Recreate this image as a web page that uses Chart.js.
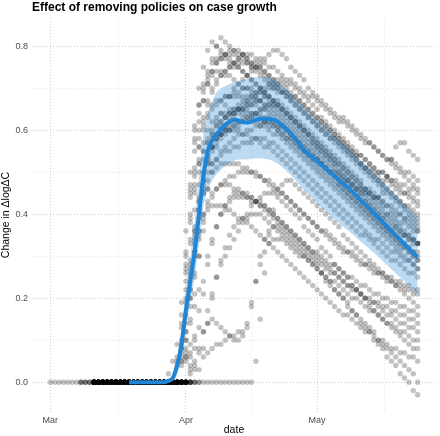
<!DOCTYPE html>
<html>
<head>
<meta charset="utf-8">
<script src="https://cdn.jsdelivr.net/npm/chart.js@4"></script>
<style>
  html, body { margin: 0; padding: 0; background: #fff; }
  canvas { display: block; }
</style>
</head>
<body>
<canvas id="chart" width="440" height="436"></canvas>
<script>
// x is days counted from 1 March
const xTickDays = [0, 31, 61];
const xTickLabels = ["Mar", "Apr", "May"];
const xMinorDays = [15.5, 46, 76.5];
const yTicks = [0, 0.1, 0.2, 0.3, 0.4, 0.5, 0.6, 0.7, 0.8];
const yTickLabels = ["0.0", "", "0.2", "", "0.4", "", "0.6", "", "0.8"];

// each track: zeros from trackFirst up to trackStart, then its values day by day
const trackFirst = [0, 7, 7, 10, 10, 10, 10, 10, 10, 11, 10, 10, 12, 10, 10, 10, 10, 10, 11, 10, 10, 10, 10, 12,
                    10, 10, 10, 11, 10, 10, 12, 10, 10, 10];
const trackStart = [30, 31, 29, 32, 30, 33, 31, 30, 31, 30, 31, 32, 29, 32, 31, 30, 31, 30, 33, 27, 34, 35, 33, 47,
                    30, 31, 29, 31, 30, 32, 32, 32, 30, 32];
const tracks = [
  [0.10,0.30,0.46,0.57,0.64,0.69,0.73,0.77,0.80,0.82,0.81, 0.80,0.79,0.79,0.78,0.77,0.76,0.76,0.75,0.74,0.73, 0.72,0.71,0.71,0.70,0.69,0.68,0.67,0.66,0.65,0.64, 0.63,0.62,0.61,0.60,0.59,0.58,0.58,0.57,0.56,0.55, 0.54,0.53,0.52,0.51,0.50,0.50,0.49,0.48,0.47,0.46, 0.45,0.45,0.44,0.43],
  [0.12,0.33,0.50,0.60,0.67,0.71,0.74,0.76,0.77,0.78, 0.78,0.78,0.77,0.77,0.76,0.75,0.74,0.73,0.72,0.71, 0.70,0.69,0.69,0.68,0.67,0.66,0.65,0.64,0.63,0.62, 0.61,0.60,0.59,0.58,0.58,0.57,0.56,0.55,0.54,0.53, 0.52,0.51,0.51,0.50,0.49,0.48,0.48,0.47,0.46,0.45, 0.45,0.44,0.43,0.42],
  [0.05,0.16,0.31,0.45,0.55,0.62,0.67,0.71,0.74,0.76, 0.77,0.77,0.76,0.76,0.75,0.74,0.73,0.72,0.71,0.70, 0.69,0.68,0.67,0.66,0.65,0.64,0.63,0.62,0.61,0.60, 0.59,0.58,0.57,0.56,0.55,0.54,0.53,0.52,0.51,0.50, 0.49,0.48,0.47,0.46,0.45,0.44,0.44,0.43,0.42,0.41, 0.40,0.40,0.39,0.38,0.37,0.36],
  [0.14,0.36,0.52,0.61,0.66,0.69,0.71,0.73,0.74,0.75, 0.76,0.77,0.78,0.78,0.78,0.77,0.77,0.76,0.75,0.75, 0.74,0.73,0.72,0.72,0.71,0.70,0.69,0.68,0.68,0.67, 0.66,0.65,0.64,0.63,0.62,0.62,0.61,0.60,0.59,0.58, 0.57,0.57,0.56,0.55,0.54,0.53,0.53,0.52,0.51,0.50, 0.50,0.49,0.48],
  [0.09,0.28,0.47,0.61,0.70,0.75,0.79,0.81,0.80,0.79, 0.78,0.77,0.76,0.75,0.74,0.73,0.72,0.71,0.70,0.69, 0.68,0.67,0.66,0.65,0.64,0.63,0.62,0.61,0.60,0.59, 0.58,0.57,0.56,0.55,0.54,0.53,0.52,0.51,0.50,0.49, 0.48,0.47,0.46,0.46,0.45,0.44,0.43,0.42,0.42,0.41, 0.40,0.39,0.39,0.38,0.37],
  [0.11,0.30,0.45,0.54,0.59,0.62,0.64,0.66,0.68,0.70, 0.71,0.72,0.73,0.74,0.75,0.76,0.77,0.78,0.79,0.79, 0.78,0.77,0.75,0.74,0.73,0.72,0.70,0.69,0.68,0.67, 0.66,0.65,0.64,0.63,0.63,0.62,0.61,0.60,0.59,0.58, 0.57,0.56,0.55,0.54,0.53,0.52,0.51,0.50,0.49,0.48, 0.47,0.46],
  [0.06,0.20,0.36,0.47,0.53,0.57,0.59,0.61,0.62,0.63, 0.64,0.64,0.65,0.65,0.65,0.64,0.64,0.63,0.62,0.62, 0.61,0.60,0.59,0.58,0.58,0.57,0.56,0.55,0.54,0.53, 0.53,0.52,0.51,0.50,0.50,0.49,0.48,0.48,0.47,0.46, 0.46,0.45,0.45,0.44,0.44,0.45,0.49,0.53,0.56,0.57, 0.57,0.55,0.54,0.53],
  [0.07,0.22,0.38,0.49,0.56,0.60,0.63,0.65,0.66,0.67, 0.68,0.68,0.69,0.69,0.70,0.70,0.70,0.69,0.69,0.68, 0.67,0.66,0.65,0.64,0.63,0.62,0.61,0.60,0.59,0.58, 0.57,0.56,0.55,0.54,0.53,0.52,0.51,0.50,0.49,0.48, 0.47,0.46,0.45,0.44,0.43,0.42,0.41,0.40,0.40,0.39, 0.38,0.38,0.37,0.36,0.36],
  [0.10,0.27,0.41,0.50,0.55,0.58,0.60,0.61,0.62,0.63, 0.64,0.64,0.65,0.65,0.66,0.66,0.67,0.67,0.66,0.66, 0.65,0.64,0.63,0.62,0.61,0.60,0.59,0.58,0.57,0.56, 0.55,0.54,0.53,0.52,0.51,0.50,0.49,0.48,0.47,0.46, 0.45,0.44,0.43,0.42,0.41,0.40,0.39,0.38,0.37,0.36, 0.35,0.35,0.34,0.33],
  [0.06,0.19,0.34,0.46,0.53,0.57,0.60,0.62,0.63,0.64, 0.64,0.65,0.65,0.65,0.64,0.64,0.63,0.63,0.62,0.62, 0.61,0.61,0.60,0.59,0.58,0.57,0.56,0.55,0.54,0.53, 0.52,0.51,0.50,0.49,0.48,0.47,0.46,0.45,0.44,0.43, 0.42,0.41,0.40,0.39,0.38,0.37,0.36,0.35,0.34,0.33, 0.32,0.32,0.31,0.30,0.29],
  [0.08,0.22,0.35,0.44,0.50,0.54,0.56,0.58,0.59,0.60, 0.60,0.61,0.61,0.62,0.62,0.62,0.62,0.61,0.61,0.60, 0.59,0.59,0.58,0.57,0.56,0.55,0.54,0.53,0.52,0.51, 0.50,0.49,0.48,0.47,0.46,0.45,0.44,0.43,0.42,0.41, 0.40,0.39,0.38,0.37,0.36,0.35,0.34,0.33,0.32,0.31, 0.30,0.29,0.28,0.27],
  [0.09,0.25,0.39,0.48,0.53,0.56,0.58,0.60,0.61,0.62, 0.63,0.64,0.65,0.66,0.66,0.67,0.67,0.68,0.68,0.67, 0.67,0.66,0.65,0.64,0.63,0.62,0.61,0.60,0.59,0.58, 0.57,0.56,0.55,0.54,0.53,0.52,0.51,0.50,0.49,0.48, 0.46,0.45,0.44,0.43,0.42,0.40,0.39,0.38,0.37,0.36, 0.35,0.34,0.33],
  [0.04,0.13,0.27,0.39,0.47,0.52,0.55,0.57,0.58,0.59, 0.59,0.60,0.60,0.60,0.60,0.59,0.59,0.58,0.58,0.57, 0.56,0.56,0.55,0.54,0.53,0.52,0.51,0.50,0.49,0.48, 0.47,0.46,0.45,0.44,0.43,0.42,0.41,0.40,0.39,0.38, 0.37,0.36,0.35,0.35,0.34,0.33,0.32,0.31,0.30,0.29, 0.29,0.28,0.27,0.26,0.26,0.25],
  [0.07,0.21,0.36,0.46,0.52,0.56,0.59,0.61,0.63,0.64, 0.65,0.66,0.67,0.68,0.68,0.69,0.70,0.70,0.71,0.71, 0.72,0.72,0.71,0.71,0.70,0.69,0.68,0.67,0.66,0.65, 0.63,0.62,0.61,0.60,0.59,0.57,0.56,0.55,0.54,0.52, 0.51,0.50,0.49,0.48,0.46,0.45,0.44,0.43,0.42,0.41, 0.40,0.39,0.38],
  [0.07,0.20,0.33,0.43,0.49,0.53,0.56,0.58,0.59,0.60, 0.61,0.62,0.62,0.63,0.63,0.64,0.64,0.65,0.65,0.66, 0.66,0.66,0.65,0.64,0.63,0.62,0.61,0.60,0.59,0.57, 0.56,0.55,0.54,0.53,0.52,0.50,0.49,0.48,0.47,0.46, 0.45,0.43,0.42,0.41,0.40,0.39,0.37,0.36,0.35,0.34, 0.33,0.32,0.31,0.30],
  [0.05,0.16,0.28,0.37,0.43,0.47,0.50,0.52,0.53,0.54, 0.55,0.55,0.56,0.56,0.57,0.57,0.57,0.58,0.58,0.58, 0.57,0.57,0.56,0.55,0.54,0.53,0.52,0.51,0.50,0.49, 0.48,0.47,0.46,0.45,0.44,0.43,0.42,0.41,0.40,0.39, 0.38,0.37,0.36,0.35,0.34,0.34,0.33,0.32,0.31,0.31, 0.30,0.29,0.29,0.28,0.27],
  [0.05,0.15,0.26,0.34,0.39,0.42,0.44,0.46,0.47,0.48, 0.49,0.49,0.50,0.50,0.50,0.50,0.49,0.49,0.48,0.48, 0.47,0.46,0.45,0.44,0.43,0.42,0.41,0.40,0.39,0.38, 0.37,0.36,0.35,0.34,0.33,0.32,0.31,0.31,0.30,0.29, 0.28,0.28,0.27,0.26,0.26,0.25,0.24,0.24,0.23,0.23, 0.22,0.22,0.21,0.21],
  [0.04,0.12,0.22,0.30,0.36,0.40,0.43,0.45,0.46,0.47, 0.47,0.47,0.46,0.46,0.45,0.45,0.44,0.43,0.43,0.42, 0.41,0.40,0.39,0.38,0.37,0.36,0.35,0.34,0.33,0.32, 0.31,0.31,0.30,0.29,0.28,0.28,0.27,0.26,0.25,0.25, 0.24,0.23,0.23,0.22,0.21,0.21,0.20,0.20,0.19,0.19, 0.18,0.18,0.17,0.17,0.16],
  [0.05,0.13,0.21,0.28,0.33,0.37,0.40,0.42,0.44,0.45, 0.45,0.45,0.44,0.44,0.43,0.42,0.42,0.41,0.40,0.39, 0.38,0.37,0.36,0.35,0.34,0.33,0.32,0.31,0.30,0.29, 0.28,0.27,0.26,0.25,0.24,0.23,0.23,0.22,0.21,0.20, 0.19,0.19,0.18,0.17,0.16,0.16,0.15,0.14,0.14,0.13, 0.13,0.12],
  [0.02,0.05,0.09,0.14,0.20,0.26,0.31,0.35,0.38,0.41, 0.42,0.42,0.42,0.41,0.41,0.40,0.39,0.39,0.38,0.37, 0.36,0.35,0.34,0.33,0.32,0.31,0.30,0.29,0.28,0.27, 0.26,0.25,0.24,0.23,0.22,0.21,0.20,0.19,0.18,0.17, 0.16,0.16,0.15,0.14,0.13,0.12,0.12,0.11,0.10,0.10, 0.09,0.08,0.08,0.07,0.07,0.06,0.06,0.05],
  [0.03,0.08,0.14,0.20,0.25,0.29,0.32,0.35,0.37,0.38, 0.39,0.39,0.40,0.40,0.40,0.39,0.38,0.37,0.36,0.35, 0.34,0.33,0.32,0.31,0.30,0.29,0.28,0.27,0.26,0.24, 0.23,0.22,0.21,0.20,0.19,0.17,0.16,0.15,0.14,0.13, 0.12,0.10,0.09,0.08,0.07,0.06,0.05,0.04,0.03,0.02, 0.00],
  [0.06,0.07,0.08,0.09,0.09,0.10,0.11,0.11,0.12,0.12, 0.13,0.18,0.24,0.30,0.34,0.36,0.37,0.37,0.36,0.35, 0.34,0.33,0.32,0.31,0.30,0.29,0.28,0.26,0.25,0.24, 0.22,0.21,0.20,0.18,0.17,0.16,0.14,0.13,0.12,0.10, 0.09,0.08,0.06,0.05,0.04,0.02,0.01,0.00,-0.02,-0.03],
  [0.04,0.08,0.12,0.14,0.15,0.14,0.13,0.12,0.11,0.10, 0.10,0.11,0.14,0.19,0.24,0.28,0.31,0.33,0.34,0.34, 0.34,0.33,0.32,0.31,0.30,0.30,0.29,0.28,0.27,0.26, 0.25,0.24,0.24,0.23,0.22,0.21,0.20,0.20,0.19,0.18, 0.17,0.17,0.16,0.15,0.14,0.14,0.13,0.12,0.12,0.11, 0.10,0.10],
  [0.05,0.15,0.26,0.35,0.41,0.45,0.47,0.48,0.48,0.47, 0.46,0.45,0.44,0.43,0.42,0.41,0.40,0.39,0.38,0.37, 0.35,0.34,0.33,0.32,0.31,0.30,0.29,0.28,0.27,0.26, 0.25,0.24,0.23,0.22,0.21,0.20,0.19,0.18],
  [0.08,0.26,0.44,0.58,0.66,0.71,0.74,0.76,0.77,0.78, 0.78,0.79,0.79,0.78,0.78,0.77,0.76,0.75,0.75,0.74, 0.73,0.72,0.71,0.70,0.69,0.68,0.68,0.67,0.66,0.65, 0.64,0.63,0.62,0.61,0.60,0.59,0.58,0.57,0.56,0.55, 0.54,0.54,0.53,0.52,0.51,0.50,0.50,0.49,0.48,0.48, 0.47,0.47,0.46,0.46,0.45],
  [0.10,0.29,0.45,0.56,0.63,0.67,0.70,0.72,0.73,0.74, 0.75,0.75,0.76,0.76,0.76,0.75,0.75,0.74,0.73,0.72, 0.71,0.70,0.69,0.68,0.67,0.66,0.65,0.64,0.63,0.62, 0.61,0.60,0.59,0.58,0.57,0.56,0.55,0.54,0.53,0.52, 0.51,0.50,0.49,0.48,0.47,0.47,0.46,0.45,0.44,0.43, 0.42,0.42,0.41,0.40],
  [0.06,0.19,0.36,0.50,0.60,0.66,0.70,0.72,0.73,0.74, 0.74,0.73,0.73,0.72,0.71,0.70,0.70,0.69,0.68,0.67, 0.66,0.65,0.64,0.63,0.62,0.61,0.60,0.59,0.58,0.57, 0.56,0.55,0.54,0.53,0.52,0.51,0.50,0.49,0.48,0.47, 0.46,0.45,0.44,0.43,0.42,0.41,0.40,0.39,0.38,0.37, 0.37,0.36,0.35,0.34,0.33,0.33],
  [0.06,0.18,0.31,0.41,0.48,0.52,0.55,0.57,0.58,0.59, 0.60,0.61,0.62,0.62,0.63,0.63,0.64,0.64,0.63,0.63, 0.62,0.61,0.60,0.59,0.58,0.57,0.56,0.55,0.54,0.53, 0.52,0.51,0.50,0.49,0.48,0.47,0.46,0.45,0.44,0.43, 0.42,0.41,0.40,0.39,0.38,0.37,0.36,0.35,0.34,0.33, 0.33,0.32,0.31,0.31],
  [0.08,0.24,0.40,0.51,0.58,0.62,0.64,0.66,0.67,0.67, 0.68,0.68,0.68,0.68,0.68,0.67,0.67,0.66,0.65,0.65, 0.64,0.63,0.62,0.61,0.60,0.59,0.58,0.57,0.56,0.55, 0.54,0.53,0.52,0.51,0.50,0.49,0.48,0.47,0.46,0.45, 0.44,0.43,0.42,0.41,0.40,0.39,0.38,0.37,0.36,0.36, 0.35,0.35,0.34,0.34,0.33],
  [0.06,0.18,0.30,0.40,0.46,0.50,0.53,0.55,0.56,0.57, 0.58,0.59,0.59,0.60,0.60,0.61,0.61,0.62,0.62,0.62, 0.61,0.61,0.60,0.59,0.58,0.57,0.56,0.55,0.54,0.53, 0.52,0.51,0.50,0.49,0.47,0.46,0.45,0.44,0.43,0.42, 0.41,0.40,0.39,0.38,0.37,0.36,0.35,0.34,0.33,0.32, 0.31,0.30,0.29],
  [0.03,0.08,0.22,0.36,0.46,0.52,0.56,0.59,0.61,0.63,0.64, 0.65,0.66,0.67,0.68,0.68,0.69,0.69,0.70,0.70,0.70, 0.69,0.69,0.68,0.67,0.66,0.65,0.64,0.63,0.62,0.61, 0.60,0.59,0.58,0.57,0.56,0.55,0.54,0.53,0.52,0.51, 0.50,0.49,0.48,0.47,0.46,0.45,0.44,0.43,0.42,0.41, 0.40,0.39],
  [0.04,0.10,0.17,0.24,0.30,0.34,0.37,0.40,0.42,0.43, 0.44,0.44,0.44,0.44,0.43,0.43,0.42,0.41,0.40,0.39, 0.38,0.37,0.36,0.35,0.34,0.33,0.32,0.31,0.30,0.29, 0.28,0.27,0.26,0.26,0.25,0.24,0.23,0.22,0.22,0.21, 0.20,0.20,0.19,0.19,0.18,0.18,0.17,0.17,0.16,0.16, 0.15,0.15,0.14],
  [0.05,0.14,0.25,0.34,0.41,0.45,0.48,0.50,0.51,0.52, 0.52,0.52,0.52,0.52,0.51,0.51,0.50,0.50,0.49,0.48, 0.47,0.46,0.46,0.45,0.44,0.43,0.42,0.41,0.40,0.39, 0.38,0.37,0.36,0.36,0.35,0.34,0.33,0.32,0.31,0.31, 0.30,0.29,0.28,0.28,0.27,0.26,0.26,0.25,0.25,0.24, 0.24,0.23,0.23,0.22,0.22],
  [0.02,0.03,0.07,0.12,0.17,0.21,0.25,0.28,0.30,0.32,0.34, 0.36,0.38,0.40,0.42,0.43,0.44,0.45,0.45,0.45,0.44, 0.43,0.42,0.41,0.40,0.39,0.37,0.36,0.35,0.34,0.32, 0.31,0.30,0.28,0.27,0.26,0.25,0.23,0.22,0.21,0.20, 0.18,0.17,0.16,0.15,0.14,0.13,0.12,0.11,0.10,0.09, 0.08,0.08]
];

// smoothed mean and its band
const fitStart = 18;
const fitMean = [0,0,0,0,0,0,0,0,0,0.003, 0.01,0.04,0.09,0.17,0.24,0.31,0.40,0.49,0.55,0.575, 0.59,0.603,0.613,0.62,0.625,0.623,0.619,0.618,0.621,0.624, 0.627,0.628,0.627,0.625,0.62,0.612,0.603,0.592,0.58,0.566, 0.552,0.543,0.535,0.526,0.517,0.508,0.499,0.49,0.481,0.472, 0.464,0.454,0.444,0.433,0.423,0.413,0.402,0.392,0.381,0.371, 0.36,0.349,0.339,0.328,0.318,0.307,0.297];
const bandStart = 28;
const bandLow = [0.00,0.02,0.06,0.13,0.19,0.25,0.33,0.42,0.46,0.48, 0.495,0.505,0.515,0.522,0.527,0.53,0.53,0.53,0.532,0.533, 0.533,0.532,0.53,0.526,0.52,0.512,0.503,0.493,0.482,0.47, 0.458,0.447,0.437,0.426,0.416,0.406,0.397,0.388,0.379,0.37, 0.362,0.353,0.344,0.335,0.326,0.317,0.308,0.299,0.289,0.279, 0.269,0.259,0.25,0.24,0.23,0.22,0.21];
const bandHigh = [0.02,0.06,0.13,0.22,0.30,0.38,0.49,0.59,0.64,0.67, 0.69,0.70,0.705,0.71,0.714,0.717,0.72,0.722,0.724,0.726, 0.727,0.726,0.724,0.72,0.714,0.706,0.697,0.687,0.676,0.664, 0.652,0.641,0.631,0.622,0.613,0.604,0.595,0.585,0.576,0.567, 0.558,0.549,0.539,0.529,0.519,0.509,0.499,0.488,0.478,0.468, 0.457,0.446,0.436,0.425,0.414,0.403,0.392];

const cloud = [];
tracks.forEach((vals, i) => {
  for (let d = trackFirst[i]; d < trackStart[i]; d++) cloud.push({ x: d, y: 0 });
  vals.forEach((v, j) => cloud.push({ x: trackStart[i] + j, y: v }));
});
const toXY = (start, arr) => arr.map((v, j) => ({ x: start + j, y: v }));

const FONT = "'Liberation Sans', Arial, sans-serif";
const MAJOR = "rgba(0,0,0,0.2)";
const MINOR = "rgba(0,0,0,0.1)";

const plotTitle = {
  id: "plotTitle",
  afterDraw(chart) {
    const c = chart.ctx;
    c.save();
    c.font = "bold 12px " + FONT;
    c.fillStyle = "#000";
    c.textBaseline = "alphabetic";
    c.fillText("Effect of removing policies on case growth", chart.chartArea.left, 11);
    c.restore();
  }
};

new Chart(document.getElementById("chart"), {
  type: "scatter",
  data: {
    datasets: [
      { type: "line", data: toXY(fitStart, fitMean), borderColor: "#2185d5", borderWidth: 4,
        pointRadius: 0, cubicInterpolationMode: "monotone", fill: false, order: 0 },
      { type: "line", data: toXY(bandStart, bandLow), borderColor: "rgba(0,0,0,0)", pointRadius: 0,
        fill: false, order: 1 },
      { type: "line", data: toXY(bandStart, bandHigh), borderColor: "rgba(0,0,0,0)", pointRadius: 0,
        fill: "-1", backgroundColor: "rgba(33,133,213,0.3)", order: 1 },
      { data: cloud, backgroundColor: "rgba(0,0,0,0.24)", borderWidth: 0, pointRadius: 2.7, order: 2 }
    ]
  },
  options: {
    responsive: false,
    animation: false,
    events: [],
    layout: { padding: { top: 18, left: 0, right: 0, bottom: 0 } },
    plugins: { legend: { display: false }, tooltip: { enabled: false } },
    scales: {
      x: {
        type: "linear", min: -4.2, max: 88.2,
        afterBuildTicks: s => {
          s.ticks = [...xTickDays, ...xMinorDays].sort((a, b) => a - b).map(v => ({ value: v }));
        },
        afterFit: s => { s.height = 24; },
        ticks: {
          autoSkip: false, maxRotation: 0, padding: 3, color: "#4d4d4d",
          font: { family: FONT, size: 9 },
          callback: v => { const i = xTickDays.indexOf(v); return i < 0 ? "" : xTickLabels[i]; }
        },
        grid: { drawTicks: false, lineWidth: 1, color: ctx => xTickDays.includes(ctx.tick.value) ? MAJOR : MINOR },
        border: { display: false, dash: [1, 2] },
        title: { display: true, text: "date", color: "#000", font: { family: FONT, size: 10.5 }, padding: 0 }
      },
      y: {
        min: -0.071, max: 0.867,
        afterBuildTicks: s => { s.ticks = yTicks.map(v => ({ value: v })); },
        afterFit: s => { s.width = 32; },
        ticks: {
          autoSkip: false, padding: 4, color: "#4d4d4d",
          font: { family: FONT, size: 9 },
          callback: (v, i) => yTickLabels[i]
        },
        grid: { drawTicks: false, lineWidth: 1, color: ctx => yTickLabels[ctx.index] ? MAJOR : MINOR },
        border: { display: false, dash: [1, 2] },
        title: { display: true, text: "Change in \u0394log\u0394C", color: "#000", font: { family: FONT, size: 10.5 }, padding: 0 }
      }
    }
  },
  plugins: [plotTitle]
});
</script>
</body>
</html>
